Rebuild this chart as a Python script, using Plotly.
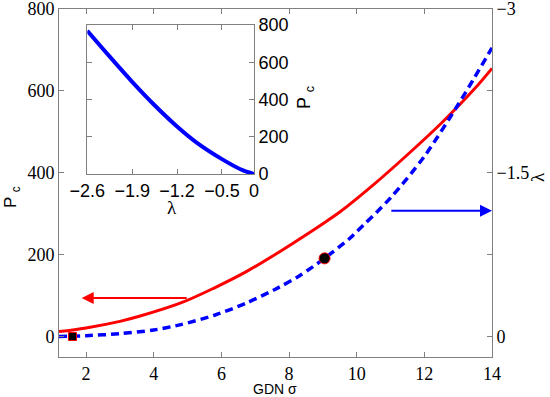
import plotly.graph_objects as go

# ---- data ----
# red curve: Pc vs GDN sigma (left axis)
sigma_red = [1.2, 2.0, 3.0, 3.6, 4.8, 5.8, 6.75, 7.7, 8.7, 9.1, 9.5, 10.5, 11.5, 12.5, 13.45, 14.0]
pc_red = [12, 21, 37, 50, 82, 119, 159, 206, 259, 281, 304, 371, 444, 521, 602, 655]

# blue dashed curve: lambda vs GDN sigma (right axis)
sigma_blue = [1.2, 2.0, 3.0, 4.0, 4.8, 5.8, 6.75, 7.7, 8.3, 8.7, 9.05, 9.8, 10.0, 11.0, 12.0, 12.95, 13.45, 14.0]
lam_blue = [0, -0.008, -0.026, -0.06, -0.109, -0.195, -0.308, -0.45, -0.555, -0.638, -0.716,
            -0.90, -0.96, -1.27, -1.65, -2.10, -2.355, -2.644]

# markers
sq_sigma, sq_lam = [1.6], [0.0]
dot_sigma, dot_lam = [9.05], [-0.716]

# inset: Pc vs lambda
lam_inset = [-2.6, -2.25, -1.9, -1.57, -1.2, -0.9, -0.5, -0.17, 0.0]
pc_inset = [769, 630, 495, 376, 255, 170, 80, 19, 0]

# ticks
x_ticks = [2, 4, 6, 8, 10, 12, 14]
pc_ticks = [0, 200, 400, 600, 800]
lam_tickvals = [-3, -2.25, -1.5, -0.75, 0]
lam_ticktext = ["\u22123", "", "\u22121.5", "", "0"]
inset_xvals = [-2.6, -1.9, -1.2, -0.5, 0]
inset_xtext = ["\u22122.6", "\u22121.9", "\u22121.2", "\u22120.5", "0"]

SERIF = "Liberation Serif"
SANS = "Liberation Sans"
AX = "#808080"

W, H = 550, 397
L, T = 59, 9
pw, ph = 433, 348
R = W - L - pw
B = H - T - ph


def px(xp):  # page pixel x -> paper
    return (xp - L) / pw


def py(yp):  # page pixel y -> paper
    return (H - B - yp) / ph


fig = go.Figure()

fig.add_trace(go.Scatter(x=sigma_red, y=pc_red, mode="lines",
                         line=dict(color="#ff0000", width=3, shape="spline", smoothing=1.0),
                         xaxis="x", yaxis="y", showlegend=False))
fig.add_trace(go.Scatter(x=sigma_blue, y=lam_blue, mode="lines",
                         line=dict(color="#0000ff", width=3.5, dash="8px,5px", shape="spline", smoothing=0.8),
                         xaxis="x", yaxis="y2", showlegend=False))
fig.add_trace(go.Scatter(x=sq_sigma, y=sq_lam, mode="markers",
                         marker=dict(symbol="square", size=8, color="black", line=dict(color="#ff0000", width=1)),
                         xaxis="x", yaxis="y2", showlegend=False))
fig.add_trace(go.Scatter(x=dot_sigma, y=dot_lam, mode="markers",
                         marker=dict(symbol="circle", size=11, color="black", line=dict(color="#ff0000", width=1)),
                         xaxis="x", yaxis="y2", showlegend=False))
fig.add_trace(go.Scatter(x=lam_inset, y=pc_inset, mode="lines",
                         line=dict(color="#0000ff", width=4, shape="spline", smoothing=0.8),
                         xaxis="x3", yaxis="y3", showlegend=False))

axis_common = dict(showline=True, linecolor=AX, linewidth=1, ticks="inside", tickcolor=AX, ticklen=5,
                   showgrid=False, zeroline=False, automargin=False, ticklabeloverflow="allow")

ix0, ix1 = px(87.3), px(254)
iy0, iy1 = py(174), py(25)

fig.update_layout(
    width=W, height=H,
    margin=dict(l=L, r=R, t=T, b=B, autoexpand=False),
    paper_bgcolor="white", plot_bgcolor="white",
    xaxis=dict(domain=[0, 1], range=[1.2, 14], tickvals=x_ticks, mirror="ticks",
               tickfont=dict(family=SERIF, size=18, color="black"), **axis_common),
    yaxis=dict(domain=[0, 1], range=[-50, 800], tickvals=pc_ticks, mirror=False,
               tickfont=dict(family=SERIF, size=18, color="black"), **axis_common),
    yaxis2=dict(overlaying="y", side="right", anchor="x", range=[0.1875, -3], tickvals=lam_tickvals,
                ticktext=lam_ticktext, tickfont=dict(family=SERIF, size=18, color="black"), **axis_common),
    xaxis3=dict(domain=[ix0, ix1], anchor="y3", range=[-2.6, 0], tickvals=inset_xvals, ticktext=inset_xtext,
                mirror="ticks", tickfont=dict(family=SANS, size=18, color="black"), **axis_common),
    yaxis3=dict(domain=[iy0, iy1], anchor="x3", side="right", range=[0, 800], tickvals=pc_ticks,
                mirror="ticks", tickfont=dict(family=SANS, size=18, color="black"), **axis_common),
)

fig.update_layout(annotations=[
    dict(text="GDN \u03c3", x=px(275), y=py(389), xref="paper", yref="paper", showarrow=False,
         font=dict(family=SANS, size=14, color="black"), xanchor="center", yanchor="middle"),
    dict(text="P <sub>c</sub>", x=px(12), y=py(197), xref="paper", yref="paper", showarrow=False, textangle=-90,
         font=dict(family=SANS, size=17, color="black"), xanchor="center", yanchor="middle"),
    dict(text="\u03bb", x=px(537), y=py(177), xref="paper", yref="paper", showarrow=False, textangle=-90,
         font=dict(family=SERIF, size=19, color="black"), xanchor="center", yanchor="middle"),
    dict(text="\u03bb", x=px(172), y=py(207), xref="paper", yref="paper", showarrow=False,
         font=dict(family=SERIF, size=19, color="black"), xanchor="center", yanchor="middle"),
    dict(text="P <sub>c</sub>", x=px(305), y=py(98), xref="paper", yref="paper", showarrow=False, textangle=-90,
         font=dict(family=SANS, size=18, color="black"), xanchor="center", yanchor="middle"),
    # arrows
    dict(x=1.87, y=94, ax=5.02, ay=94, xref="x", yref="y", axref="x", ayref="y", showarrow=True, text="",
         arrowcolor="#ff0000", arrowwidth=2, arrowhead=2, arrowsize=1.2, standoff=0),
    dict(x=14, y=307, ax=10.98, ay=307, xref="x", yref="y", axref="x", ayref="y", showarrow=True, text="",
         arrowcolor="#0000ff", arrowwidth=2, arrowhead=2, arrowsize=1.2, standoff=0),
])

fig.write_html("out.html", config={"displayModeBar": False},
               post_script="document.body.style.margin='0';document.body.style.overflow='hidden';")
